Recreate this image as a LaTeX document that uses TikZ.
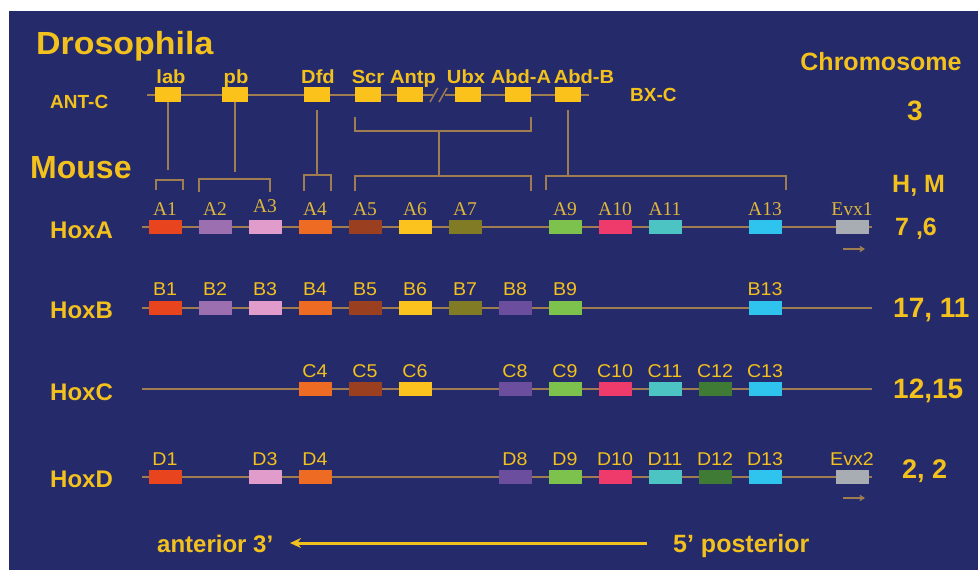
\documentclass[tikz,border=0pt]{standalone}
\usepackage{fontspec}
\setmainfont{Liberation Sans}
\newfontfamily\serifl{Liberation Serif}
\newfontfamily\widesans[FakeStretch=1.06]{Liberation Sans}
\usetikzlibrary{arrows.meta}
\definecolor{bgblue}{HTML}{252A6A}
\definecolor{txt}{HTML}{F3C11D}
\definecolor{txtser}{HTML}{DDB73C}
\definecolor{dyel}{HTML}{FBC21B}
\definecolor{tan}{HTML}{A07D50}
\definecolor{c1}{HTML}{E8441E}
\definecolor{c2}{HTML}{9B6FB0}
\definecolor{c3}{HTML}{E29CCB}
\definecolor{c4}{HTML}{EE6B23}
\definecolor{c5}{HTML}{9A4020}
\definecolor{c6}{HTML}{FCC21E}
\definecolor{c7}{HTML}{807B24}
\definecolor{c8}{HTML}{6B4E9E}
\definecolor{c9}{HTML}{7CC24C}
\definecolor{c10}{HTML}{EE3B6C}
\definecolor{c11}{HTML}{4DC4C4}
\definecolor{c12}{HTML}{3F7B34}
\definecolor{c13}{HTML}{2FC4EE}
\definecolor{evx}{HTML}{A8ADB4}
\tikzset{
  dbox/.style={fill=dyel, minimum width=26pt, minimum height=15pt, inner sep=0pt, draw=none},
  gbox/.style={minimum width=33pt, minimum height=14pt, inner sep=0pt, draw=none},
  dlab/.style={font=\widesans\bfseries\fontsize{19}{21}\selectfont, text=txt, anchor=base, inner sep=0pt},
  slab/.style={font=\widesans\fontsize{18.5}{20}\selectfont, text=txt, anchor=base, inner sep=0pt},
  rlab/.style={font=\serifl\fontsize{19.5}{21}\selectfont, text=txtser, anchor=base, inner sep=0pt},
  bigt/.style={text=txt, anchor=base west, inner sep=0pt},
  link/.style={draw=tan, line width=2pt},
  rowline/.style={draw=tan, line width=2pt},
}
\begin{document}
\begin{tikzpicture}[x=1pt,y=-1pt]
\useasboundingbox (0,0) rectangle (978,570);
\fill[white] (0,0) rectangle (978,570);
\fill[bgblue] (9,11) rectangle (978,570);

% titles
\node[bigt, font=\widesans\bfseries\fontsize{32}{36}\selectfont] (tDro) at (36,54) {Drosophila};
\node[bigt, font=\bfseries\fontsize{32}{36}\selectfont] (tMou) at (30,178) {Mouse};
\node[bigt, font=\bfseries\fontsize{19}{21}\selectfont] (tANT) at (50,108) {ANT-C};
\node[bigt, font=\bfseries\fontsize{19}{21}\selectfont] (tBX) at (630,101) {BX-C};
\node[text=txt, anchor=base, inner sep=0pt, font=\bfseries\fontsize{25}{28}\selectfont] (tChr) at (881,70) {Chromosome};
\node[text=txt, anchor=base, inner sep=0pt, font=\bfseries\fontsize{28}{30}\selectfont] (tThree) at (915,120) {3};
\node[bigt, font=\bfseries\fontsize{25}{28}\selectfont] (tHM) at (892,192) {H, M};

% Drosophila chromosome line
\coordinate (dS) at (147,95);
\coordinate (dB1) at (433,95);
\coordinate (dB2) at (445,95);
\coordinate (dE) at (589,95);
\draw[rowline] (dS) -- (dB1);
\draw[rowline] (dB2) -- (dE);
\coordinate (s1a) at (430,102); \coordinate (s1b) at (438,88);
\coordinate (s2a) at (439,102); \coordinate (s2b) at (447,88);
\draw[link, line width=1.5pt] (s1a) -- (s1b);
\draw[link, line width=1.5pt] (s2a) -- (s2b);

\node[dbox] (lab) at (168,94.5) {};
\node[dbox] (pb) at (235,94.5) {};
\node[dbox] (Dfd) at (317,94.5) {};
\node[dbox] (Scr) at (367.5,94.5) {};
\node[dbox] (Antp) at (409.5,94.5) {};
\node[dbox] (Ubx) at (468,94.5) {};
\node[dbox] (AbdA) at (518,94.5) {};
\node[dbox] (AbdB) at (567.5,94.5) {};

\node[dlab] (llab) at (171,83) {lab};
\node[dlab] (lpb) at (236,83) {pb};
\node[dlab] (lDfd) at (318,83) {Dfd};
\node[dlab] (lScr) at (368,83) {Scr};
\node[dlab] (lAntp) at (413,83) {Antp};
\node[dlab] (lUbx) at (466,83) {Ubx};
\node[dlab] (lAbdA) at (521,83) {Abd-A};
\node[dlab] (lAbdB) at (584,83) {Abd-B};

% connectors
\coordinate (labE) at (168,170);
\draw[link] (lab.south) -- (labE);
\coordinate (pbE) at (235,172);
\draw[link] (pb.south) -- (pbE);
\coordinate (DfdS) at (317,110);
\coordinate (DfdE) at (317,175);
\draw[link] (DfdS) -- (DfdE);
\coordinate (AbdBS) at (568,110);
\coordinate (AbdBE) at (568,176);
\draw[link] (AbdBS) -- (AbdBE);
% upper bracket Scr..Abd-A
\coordinate (u1) at (355,117); \coordinate (u2) at (355,131);
\coordinate (u3) at (531,131); \coordinate (u4) at (531,117);
\draw[link] (u1) -- (u2) -- (u3) -- (u4);
\coordinate (uc) at (439,131); \coordinate (ucE) at (439,176);
\draw[link] (uc) -- (ucE);
% lower brackets
\coordinate (b1a) at (156,190); \coordinate (b1b) at (156,180);
\coordinate (b1c) at (183,180); \coordinate (b1d) at (183,190);
\draw[link] (b1a) -- (b1b) -- (b1c) -- (b1d);
\coordinate (b2a) at (199,192); \coordinate (b2b) at (199,179);
\coordinate (b2c) at (270,179); \coordinate (b2d) at (270,192);
\draw[link] (b2a) -- (b2b) -- (b2c) -- (b2d);
\coordinate (b3a) at (304,191); \coordinate (b3b) at (304,175);
\coordinate (b3c) at (331,175); \coordinate (b3d) at (331,191);
\draw[link] (b3a) -- (b3b) -- (b3c) -- (b3d);
\coordinate (b4a) at (355,191); \coordinate (b4b) at (355,176);
\coordinate (b4c) at (531,176); \coordinate (b4d) at (531,191);
\draw[link] (b4a) -- (b4b) -- (b4c) -- (b4d);
\coordinate (b5a) at (546,190); \coordinate (b5b) at (546,176);
\coordinate (b5c) at (786,176); \coordinate (b5d) at (786,190);
\draw[link] (b5a) -- (b5b) -- (b5c) -- (b5d);

% row lines
\foreach \r/\y in {A/227,B/308,C/389,D/477}{
  \coordinate (\r s) at (142,\y);
  \coordinate (\r e) at (872,\y);
  \draw[rowline] (\r s) -- (\r e);
}

% row names
\foreach \r/\y in {A/238,B/318,C/400,D/487}{
  \node[bigt, font=\bfseries\fontsize{24}{26}\selectfont] (name\r) at (50,\y) {Hox\r};
}

% HoxA
\foreach \n/\c in {1/c1,2/c2,3/c3,4/c4,5/c5,6/c6,7/c7,9/c9,10/c10,11/c11,13/c13}{
  \node[gbox, fill=\c] (A\n) at ({165+50*(\n-1)},227) {};
}
\foreach \n in {1,2,4,5,6,7,9,10,11,13}{
  \node[rlab] (lA\n) at ([yshift=12pt]A\n.center) {A\n};
}
\node[rlab] (lA3) at ([yshift=15pt]A3.center) {A3};
\node[gbox, fill=evx] (Evx1) at (852,227) {};
\node[rlab] (lEvx1) at ([yshift=12pt]Evx1.center) {Evx1};

% HoxB
\foreach \n/\c in {1/c1,2/c2,3/c3,4/c4,5/c5,6/c6,7/c7,8/c8,9/c9,13/c13}{
  \node[gbox, fill=\c] (B\n) at ({165+50*(\n-1)},308) {};
  \node[slab] (lB\n) at ([yshift=13pt]B\n.center) {B\n};
}

% HoxC
\foreach \n/\c in {4/c4,5/c5,6/c6,8/c8,9/c9,10/c10,11/c11,12/c12,13/c13}{
  \node[gbox, fill=\c] (C\n) at ({165+50*(\n-1)},389) {};
  \node[slab] (lC\n) at ([yshift=12pt]C\n.center) {C\n};
}

% HoxD
\foreach \n/\c in {1/c1,3/c3,4/c4,8/c8,9/c9,10/c10,11/c11,12/c12,13/c13}{
  \node[gbox, fill=\c] (D\n) at ({165+50*(\n-1)},477) {};
  \node[slab] (lD\n) at ([yshift=12pt]D\n.center) {D\n};
}
\node[gbox, fill=evx] (Evx2) at (852,477) {};
\node[slab] (lEvx2) at ([yshift=12pt]Evx2.center) {Evx2};

% small direction arrows
\coordinate (e1a) at (843,249); \coordinate (e1b) at (865,249);
\draw[draw=tan, line width=1.3pt, -{Straight Barb[length=4pt,width=5pt]}] (e1a) -- (e1b);
\coordinate (e2a) at (843,498); \coordinate (e2b) at (865,498);
\draw[draw=tan, line width=1.3pt, -{Straight Barb[length=4pt,width=5pt]}] (e2a) -- (e2b);

% chromosome numbers
\node[bigt, font=\bfseries\fontsize{25}{28}\selectfont] (nA) at (895,235) {7 ,6};
\node[bigt, font=\bfseries\fontsize{28}{30}\selectfont] (nB) at (893,317) {17, 11};
\node[bigt, font=\bfseries\fontsize{28}{30}\selectfont] (nC) at (893,398) {12,15};
\node[bigt, font=\bfseries\fontsize{27}{30}\selectfont] (nD) at (902,478) {2, 2};

% bottom axis
\node[bigt, font=\bfseries\fontsize{24}{26}\selectfont] (ant) at (157,552) {anterior 3’};
\node[bigt, font=\bfseries\fontsize{25}{28}\selectfont] (post) at (673,552) {5’ posterior};
\coordinate (arrR) at (647,543);
\coordinate (arrL) at (290,543);
\draw[draw=txt, line width=3pt, -{Stealth[length=11pt,width=10pt]}] (arrR) -- (arrL);
\end{tikzpicture}
\end{document}
